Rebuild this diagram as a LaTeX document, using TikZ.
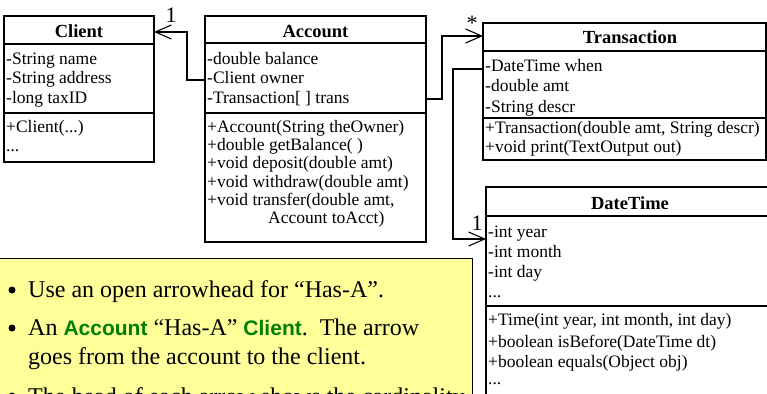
\documentclass[tikz,border=0pt]{standalone}
\usepackage{fontspec}
\setmainfont{Liberation Serif}
\newfontfamily\arialfam{Liberation Sans}
\usetikzlibrary{arrows.meta}
\definecolor{noteyellow}{HTML}{FFFF99}
\definecolor{kwgreen}{HTML}{008000}
\newcommand{\kw}[1]{{\arialfam\bfseries\fontsize{21}{24}\selectfont\color{kwgreen}#1}}
\begin{document}
\begin{tikzpicture}[x=1pt,y=-1pt,
  classbox/.style={draw, line width=1.1pt, inner sep=0pt, outer sep=0pt, anchor=north west},
  row/.style={anchor=base west, inner sep=0pt, font=\fontsize{17.5}{19}\selectfont},
  hdr/.style={anchor=base, inner sep=0pt, font=\fontsize{18.5}{20}\selectfont\bfseries},
  sepline/.style={line width=1.1pt},
  hasa/.style={line width=1.1pt, -{Straight Barb[length=16pt,width=14pt,line width=1.1pt]}},
  mult/.style={inner sep=0pt, font=\fontsize{22}{23}\selectfont},
  bul/.style={anchor=base west, inner sep=0pt, font=\fontsize{24}{29}\selectfont},
  bdot/.style={circle, fill, inner sep=0pt, minimum size=7pt}
]
\useasboundingbox (0,0) rectangle (767,393);
\clip (0,0) rectangle (767,393);

% ---------- Client ----------
\node[classbox, minimum width=150pt, minimum height=146pt] (client) at (4,16) {};
\draw[sepline] (4,44) -- (154,44);
\draw[sepline] (4,113) -- (154,113);
\node[hdr] (clientT) at (79,37.5) {Client};
\node[row] (c1) at (6,65) {-String name};
\node[row] (c2) at (6,84) {-String address};
\node[row] (c3) at (6,103) {-long taxID};
\node[row] (c4) at (6,132) {+Client(...)};
\node[row] (c5) at (6,151) {...};

% ---------- Account ----------
\node[classbox, minimum width=221pt, minimum height=226pt] (account) at (205,16) {};
\draw[sepline] (205,43) -- (426,43);
\draw[sepline] (205,113) -- (426,113);
\node[hdr] (accountT) at (315.5,37.5) {Account};
\node[row] (a1) at (207,65) {-double balance};
\node[row] (a2) at (207,84) {-Client owner};
\node[row] (a3) at (207,103) {-Transaction[ ] trans};
\node[row] (a4) at (207,132) {+Account(String theOwner)};
\node[row] (a5) at (207,150) {+double getBalance( )};
\node[row] (a6) at (207,168) {+void deposit(double amt)};
\node[row] (a7) at (207,187) {+void withdraw(double amt)};
\node[row] (a8) at (207,205) {+void transfer(double amt,};
\node[row] (a9) at (268,223) {Account toAcct)};

% ---------- Transaction ----------
\node[classbox, minimum width=283pt, minimum height=137pt] (trans) at (483,23) {};
\draw[sepline] (483,51) -- (766,51);
\draw[sepline] (483,118) -- (766,118);
\node[hdr] (transT) at (630,44) {Transaction};
\node[row] (t1) at (485,72) {-DateTime when};
\node[row] (t2) at (485,92) {-double amt};
\node[row] (t3) at (485,112) {-String descr};
\node[row] (t4) at (485,133) {+Transaction(double amt, String descr)};
\node[row] (t5) at (485,152) {+void print(TextOutput out)};

% ---------- DateTime ----------
\node[classbox, minimum width=300pt, minimum height=230pt] (dt) at (486,187) {};
\draw[sepline] (486,216) -- (790,216);
\draw[sepline] (486,306) -- (790,306);
\node[hdr] (dtT) at (630,209) {DateTime};
\node[row] (d1) at (488,237) {-int year};
\node[row] (d2) at (488,257) {-int month};
\node[row] (d3) at (488,277) {-int day};
\node[row] (d4) at (488,297) {...};
\node[row] (d5) at (488,325) {+Time(int year, int month, int day)};
\node[row] (d6) at (488,347) {+boolean isBefore(DateTime dt)};
\node[row] (d7) at (488,367) {+boolean equals(Object obj)};
\node[row] (d8) at (488,384) {...};

% ---------- Has-A connectors ----------
\draw[hasa] (account.west |- 0,80) -- (187,80) |- (client.east |- 0,32);
\draw[hasa] (account.east |- 0,99) -- (442,99) |- (trans.west |- 0,36);
\draw[hasa] (trans.west |- 0,69) -- (453,69) |- (dt.west |- 0,239);
\node[mult] (m1) at (171,15) {1};
\node[mult] (m2) at (472,23) {*};
\node[mult] (m3) at (477,223) {1};

% ---------- Note ----------
\node[draw, fill=noteyellow, line width=1pt, anchor=north west, minimum width=475pt, minimum height=150pt, inner sep=0pt, outer sep=0pt] (note) at (-3,258) {};
\begin{scope}
\clip (-3,258) rectangle (472,408);
\node[bdot] (p1) at (12,290) {};
\node[bul] (b1) at (28,297) {Use an open arrowhead for “Has-A”.};
\node[bdot] (p2) at (12,328) {};
\node[bul] (b2) at (28,335) {An \kw{Account} “Has-A” \kw{Client}.\ \ The arrow};
\node[bul] (b2b) at (28,364) {goes from the account to the client.};
\node[bdot] (p3) at (12,396) {};
\node[bul] (b3) at (28,404) {The head of each arrow shows the cardinality};
\end{scope}
\end{tikzpicture}
\end{document}
